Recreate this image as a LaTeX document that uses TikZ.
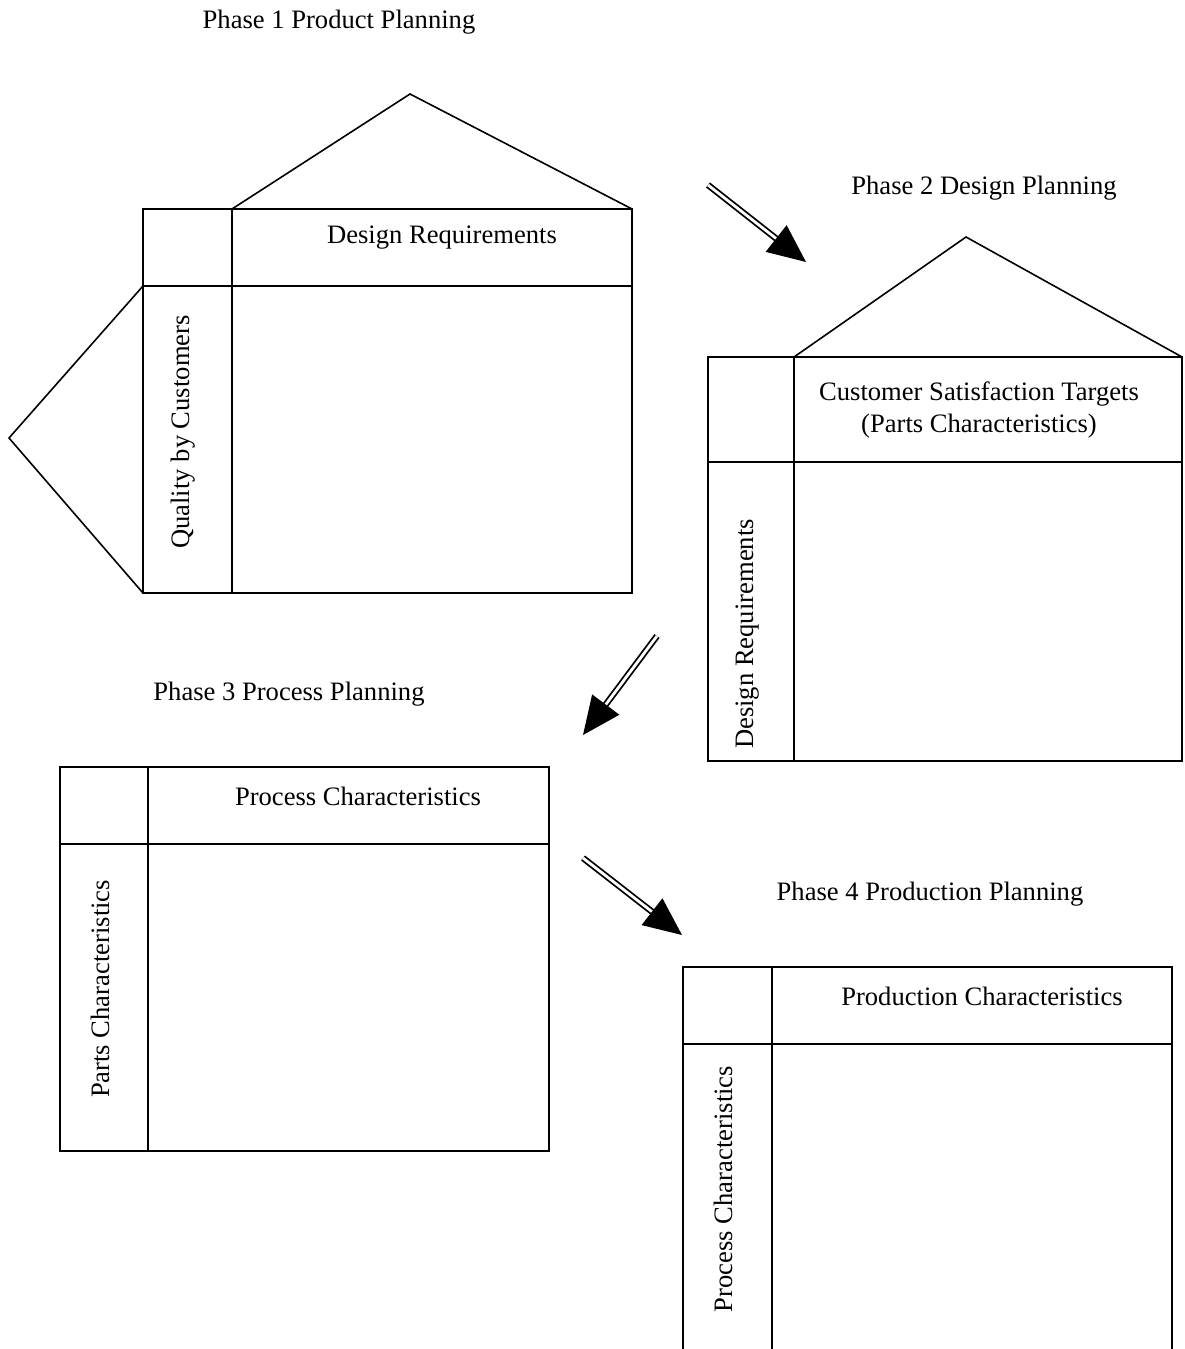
\documentclass[tikz,border=0pt]{standalone}
\usepackage{fontspec}
\setmainfont{Liberation Serif}
\usetikzlibrary{calc}
\begin{document}
\begin{tikzpicture}[x=0.5pt,y=-0.5pt,
  frame/.style={line width=0.8pt,line join=miter},
  lbl/.style={font=\fontsize{13.3}{16}\selectfont,inner sep=0pt,align=center},
  vlbl/.style={lbl,rotate=90},
  shaft/.style={double,line width=0.9pt,double distance=1.4pt},
  head/.style={fill=black}]
\useasboundingbox (0,0) rectangle (1184,1349);

% ---- Phase 1: house with roof and left wing ----
\node[lbl] (t1) at (339,22) {Phase 1 Product Planning};
\draw[frame] (143,209) rectangle (632,593);
\draw[frame] (232,209) -- (232,593);
\draw[frame] (143,286) -- (632,286);
\draw[frame] (232,209) -- (410,94) -- (632,209);
\draw[frame] (143,286) -- (9,438) -- (143,593);
\node[lbl] (h1) at (442,238) {Design Requirements};
\node[vlbl] (v1) at (183,432) {Quality by Customers};

% ---- Phase 2: house with roof ----
\node[lbl] (t2) at (984,188) {Phase 2 Design Planning};
\draw[frame] (708,357) rectangle (1182,761);
\draw[frame] (794,357) -- (794,761);
\draw[frame] (708,462) -- (1182,462);
\draw[frame] (794,357) -- (966,237) -- (1182,357);
\node[lbl] (h2) at (979,410) {Customer Satisfaction Targets\\(Parts Characteristics)};
\node[vlbl] (v2) at (748,634) {Design Requirements};

% ---- Phase 3 ----
\node[lbl] (t3) at (289,694) {Phase 3 Process Planning};
\draw[frame] (60,767) rectangle (549,1151);
\draw[frame] (148,767) -- (148,1151);
\draw[frame] (60,844) -- (549,844);
\node[lbl] (h3) at (358,796) {Process Characteristics};
\node[vlbl] (v3) at (100,989) {Parts Characteristics};

% ---- Phase 4 (runs past the lower edge) ----
\node[lbl] (t4) at (930,894) {Phase 4 Production Planning};
\draw[frame] (683,1352) -- (683,967) -- (1172,967) -- (1172,1352);
\draw[frame] (772,967) -- (772,1352);
\draw[frame] (683,1044) -- (1172,1044);
\node[lbl] (h4) at (982,996) {Production Characteristics};
\node[vlbl] (v4) at (723,1189) {Process Characteristics};

% ---- hollow-shaft arrows between phases ----
\coordinate (a1s) at (708,185);  \coordinate (a1e) at (806,262);
\coordinate (a2s) at (657,636);  \coordinate (a2e) at (583,735);
\coordinate (a3s) at (583,858);  \coordinate (a3e) at (682,935);
\foreach \s/\e in {a1s/a1e,a2s/a2e,a3s/a3e}{
  \coordinate (b) at ($(\e)!19pt!(\s)$);
  \draw[shaft] (\s) -- ($(\e)!15pt!(\s)$);
  \fill[head] (\e) -- ($(b)!8.5pt!90:(\e)$) -- ($(b)!8.5pt!-90:(\e)$) -- cycle;
}
\end{tikzpicture}
\end{document}
